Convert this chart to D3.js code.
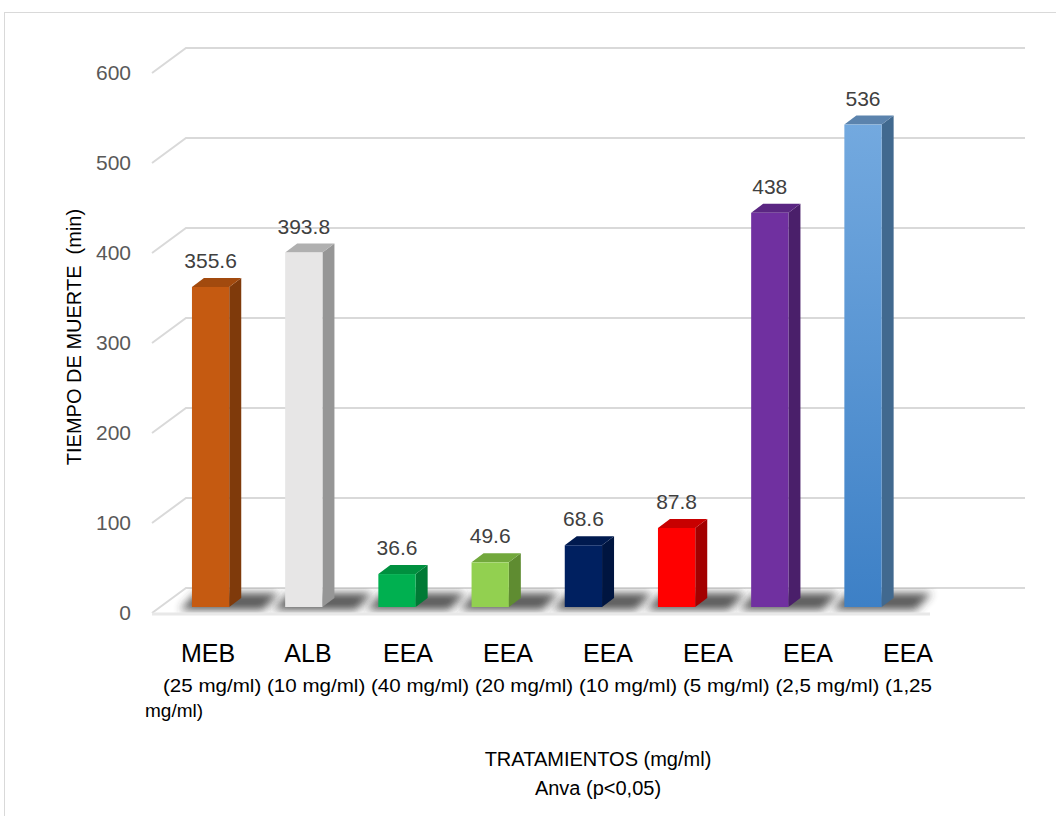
<!DOCTYPE html>
<html>
<head>
<meta charset="utf-8">
<script src="https://cdn.jsdelivr.net/npm/d3@7"></script>
<style>
  body { margin: 0; background: #fff; }
  text { font-family: "Liberation Sans", Arial, sans-serif; }
</style>
</head>
<body>
<svg id="canvas" width="1056" height="816"></svg>
<script>
let categories = ['MEB', 'ALB', 'EEA', 'EEA', 'EEA', 'EEA', 'EEA', 'EEA']
let doses = ['(25 mg/ml)', '(10 mg/ml)', '(40 mg/ml)', '(20 mg/ml)', '(10 mg/ml)', '(5 mg/ml)', '(2,5 mg/ml)', '(1,25 mg/ml)']
let values = [355.6, 393.8, 36.6, 49.6, 68.6, 87.8, 438, 536]
let yTicks = [0, 100, 200, 300, 400, 500, 600]

// front / top / side colours per bar
let frontColors = ['#c55a11', '#e7e6e6', '#00b050', '#92d050', '#002060', '#ff0000', '#7030a0', 'url(#blueGrad)']
let topColors = ['#a24a0e', '#b0b0b0', '#00903f', '#72a83c', '#001a4f', '#c80000', '#5a2682', '#5b83ad']
let sideColors = ['#7f3a0b', '#969696', '#007a35', '#5f8c31', '#001540', '#a30000', '#4a1f6a', '#41698f']

let canvas = d3.select('#canvas')

// 3d geometry
const depthX = 34, depthY = 25        // wall depth
const barDX = 12, barDY = 9           // bar depth
const frontLeft = 152, backRight = 1025

let yFront = d3.scaleLinear().domain([0, 600]).range([613, 73])
let yBack = d3.scaleLinear().domain([0, 600]).range([613 - depthY, 73 - depthY])
let yBar = d3.scaleLinear().domain([0, 600]).range([607, 67])

let xBar = d3.scaleBand()
    .domain(d3.range(values.length))
    .range([164, 909.6])
    .paddingInner(0.6)
    .paddingOuter(0.3)

let xLabel = d3.scalePoint()
    .domain(d3.range(categories.length))
    .range([208, 908])

let defs = canvas.append('defs')
let grad = defs.append('linearGradient').attr('id', 'blueGrad')
    .attr('x1', 0).attr('y1', 0).attr('x2', 0).attr('y2', 1)
grad.append('stop').attr('offset', '0%').attr('stop-color', '#73a9df')
grad.append('stop').attr('offset', '100%').attr('stop-color', '#3d80c6')

defs.append('filter').attr('id', 'blur')
    .attr('x', '-30%').attr('y', '-50%').attr('width', '160%').attr('height', '200%')
    .append('feGaussianBlur').attr('stdDeviation', 4)

let floorPts = [[frontLeft, yFront(0)], [frontLeft + depthX, yBack(0)], [backRight, yBack(0)], [backRight - depthX, yFront(0)]]
defs.append('clipPath').attr('id', 'floorClip')
    .append('polygon').attr('points', floorPts.map(p => p.join(',')).join(' '))

// outer frame
canvas.append('rect')
    .attr('x', 4.5).attr('y', 12.5)
    .attr('width', 1070).attr('height', 820)
    .attr('fill', 'none')
    .attr('stroke', '#d9d9d9')

// gridlines on the back wall + left wall (0 is the floor's back edge)
canvas.append('g')
    .selectAll('path')
    .data(yTicks)
    .enter()
    .append('path')
    .attr('d', t => `M${frontLeft},${yFront(t)}L${frontLeft + depthX},${yBack(t)}L${backRight},${yBack(t)}`)
    .attr('fill', 'none')
    .attr('stroke', '#d9d9d9')
    .attr('stroke-width', 2)

// shadows on the floor
canvas.append('g')
    .attr('clip-path', 'url(#floorClip)')
    .selectAll('polygon')
    .data(values)
    .enter()
    .append('polygon')
    .attr('points', (d, i) => {
        let x0 = xBar(i) - 12, x1 = xBar(i) + xBar.bandwidth() + 34
        let yb = yFront(0) - 3, yt = yBack(0) + 5
        return [[x0, yb], [x1, yb], [x1 + 16, yt], [x0 + 16, yt]].map(p => p.join(',')).join(' ')
    })
    .attr('fill', '#333')
    .attr('opacity', 0.8)
    .attr('filter', 'url(#blur)')

// front floor edge
canvas.append('line')
    .attr('x1', frontLeft).attr('x2', 930)
    .attr('y1', yFront(0) + 1).attr('y2', yFront(0) + 1)
    .attr('stroke', '#e8e8e8')
    .attr('stroke-width', 3)

// bars
let bars = canvas.append('g')
    .selectAll('g')
    .data(values)
    .enter()
    .append('g')

let w = xBar.bandwidth()

bars.append('polygon')
    .attr('points', (d, i) => {
        let x0 = xBar(i), y0 = yBar(0), y1 = yBar(d)
        return [[x0 + w, y1], [x0 + w + barDX, y1 - barDY], [x0 + w + barDX, y0 - barDY], [x0 + w, y0]].map(p => p.join(',')).join(' ')
    })
    .attr('fill', (d, i) => sideColors[i])

bars.append('polygon')
    .attr('points', (d, i) => {
        let x0 = xBar(i), y1 = yBar(d)
        return [[x0, y1], [x0 + barDX, y1 - barDY], [x0 + w + barDX, y1 - barDY], [x0 + w, y1]].map(p => p.join(',')).join(' ')
    })
    .attr('fill', (d, i) => topColors[i])

bars.append('rect')
    .attr('x', (d, i) => xBar(i))
    .attr('y', d => yBar(d))
    .attr('width', w)
    .attr('height', d => yBar(0) - yBar(d))
    .attr('fill', (d, i) => frontColors[i])

// data labels
bars.append('text')
    .attr('x', (d, i) => xBar(i) + w / 2)
    .attr('y', d => yBar(d) - barDY - 10)
    .attr('text-anchor', 'middle')
    .attr('font-size', 21)
    .attr('fill', '#404040')
    .text(d => d)

// y tick labels
canvas.append('g')
    .selectAll('text')
    .data(yTicks)
    .enter()
    .append('text')
    .attr('x', 131)
    .attr('y', t => yFront(t) + 7)
    .attr('text-anchor', 'end')
    .attr('font-size', 21)
    .attr('fill', '#595959')
    .text(t => t)

// category labels, first line
canvas.append('g')
    .selectAll('text')
    .data(categories)
    .enter()
    .append('text')
    .attr('x', (d, i) => xLabel(i))
    .attr('y', 662)
    .attr('text-anchor', 'middle')
    .attr('font-size', 25)
    .attr('fill', '#000')
    .text(d => d)

// dose labels flow as one wrapped paragraph
let words = doses.join(' ').split(' ')
canvas.append('text')
    .attr('x', 163)
    .attr('y', 692)
    .attr('font-size', 19)
    .attr('fill', '#000')
    .attr('textLength', 769)
    .attr('lengthAdjust', 'spacingAndGlyphs')
    .text(words.slice(0, -1).join(' '))
canvas.append('text')
    .attr('x', 145)
    .attr('y', 717)
    .attr('font-size', 19)
    .attr('fill', '#000')
    .text(words[words.length - 1])

// axis titles
canvas.append('text')
    .attr('transform', 'translate(81,337) rotate(-90)')
    .attr('text-anchor', 'middle')
    .attr('font-size', 20)
    .attr('fill', '#000')
    .style('white-space', 'pre')
    .text('TIEMPO DE MUERTE  (min)')

canvas.append('text')
    .attr('x', 598)
    .attr('y', 766)
    .attr('text-anchor', 'middle')
    .attr('font-size', 20)
    .attr('fill', '#000')
    .text('TRATAMIENTOS (mg/ml)')

canvas.append('text')
    .attr('x', 598)
    .attr('y', 795)
    .attr('text-anchor', 'middle')
    .attr('font-size', 20)
    .attr('fill', '#000')
    .text('Anva (p<0,05)')
</script>
</body>
</html>
